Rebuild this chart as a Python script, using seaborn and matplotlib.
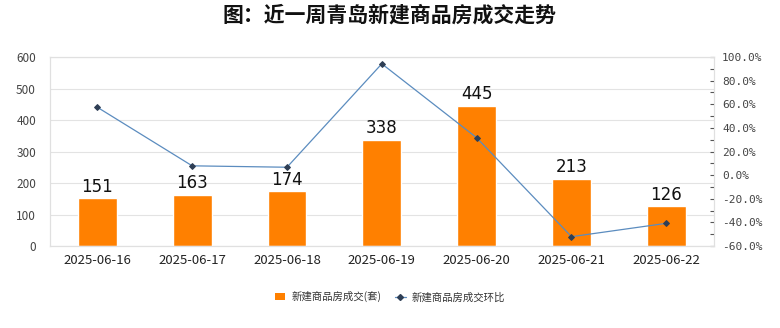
import matplotlib
matplotlib.use("Agg")
import matplotlib.pyplot as plt
import seaborn as sns
import pandas as pd
from matplotlib.ticker import MultipleLocator, FuncFormatter
from matplotlib.patches import Patch
from matplotlib.lines import Line2D

dates = ["2025-06-16", "2025-06-17", "2025-06-18", "2025-06-19", "2025-06-20", "2025-06-21", "2025-06-22"]
volumes = [151, 163, 174, 338, 445, 213, 126]
mom_pct = [57.5, 7.9, 6.7, 94.3, 31.7, -52.1, -40.8]

title = "图：近一周青岛新建商品房成交走势"
bar_label = "新建商品房成交(套)"
line_label = "新建商品房成交环比"

sns.set_theme(style="white")
plt.rcParams['font.family'] = ['Noto Sans CJK SC', 'DejaVu Sans']

df = pd.DataFrame({"date": dates, "volume": volumes, "mom": mom_pct})

BAR = "#FF8000"
LINE = "#5b8cbf"
MARK = "#2f3f55"

fig = plt.figure(figsize=(7.8, 3.28), dpi=100)
ax = fig.add_axes([0.064, 0.25, 0.851, 0.576])

sns.barplot(data=df, x="date", y="volume", color=BAR, saturation=1, width=0.41, ax=ax, zorder=2)
ax.set_ylim(0, 600)
ax.yaxis.set_major_locator(MultipleLocator(100))
ax.grid(axis="y", color="#e3e3e3", linewidth=0.8, zorder=0)
ax.set_axisbelow(True)
for s in ax.spines.values():
    s.set_color("#e0e0e0")
    s.set_linewidth(0.8)
ax.set_xlabel("")
ax.set_ylabel("")
ax.tick_params(axis="y", labelsize=8.5, colors="#444444", length=0, pad=10)
ax.tick_params(axis="x", labelsize=9.5, colors="#222222", length=0, pad=6)
for i, v in enumerate(volumes):
    ax.text(i, v + 8, str(v), ha="center", va="bottom", fontsize=12, color="#111111",
            family=["DejaVu Sans"])

ax2 = ax.twinx()
sns.lineplot(data=df, x="date", y="mom", ax=ax2, color=LINE, linewidth=0.9,
             marker="D", markersize=3, markerfacecolor=MARK, markeredgecolor=MARK, zorder=3)
ax2.set_ylim(-60, 100)
ax2.yaxis.set_major_locator(MultipleLocator(20))
ax2.yaxis.set_minor_locator(MultipleLocator(10))
ax2.yaxis.set_major_formatter(FuncFormatter(lambda v, p: f"{v:.1f}%"))
ax2.tick_params(axis="y", which="major", labelsize=8, colors="#444444", length=3, width=0.8, pad=6,
                direction="in", color="#555555")
ax2.tick_params(axis="y", which="minor", length=3, width=0.8, direction="in", color="#555555")
for lab in ax2.get_yticklabels():
    lab.set_family(["DejaVu Sans Mono"])
ax2.set_ylabel("")
ax2.set_xlabel("")
for s in ax2.spines.values():
    s.set_color("#e0e0e0")
    s.set_linewidth(0.8)
ax.set_xlim(-0.5, 6.5)

handles = [Patch(facecolor=BAR, edgecolor="none"),
           Line2D([0], [0], color=LINE, linewidth=0.9, marker="D", markersize=3,
                  markerfacecolor=MARK, markeredgecolor=MARK)]
fig.legend(handles, [bar_label, line_label], loc="center", bbox_to_anchor=(0.5, 0.095), ncol=2,
           frameon=False, fontsize=7.5, handlelength=1.0, handleheight=0.7, handletextpad=0.6,
           columnspacing=1.3, labelcolor="#333333")

fig.text(0.5, 0.955, title, ha="center", va="center", fontsize=15, fontweight="bold", color="#111111")

fig.savefig("out.png", dpi=100)
